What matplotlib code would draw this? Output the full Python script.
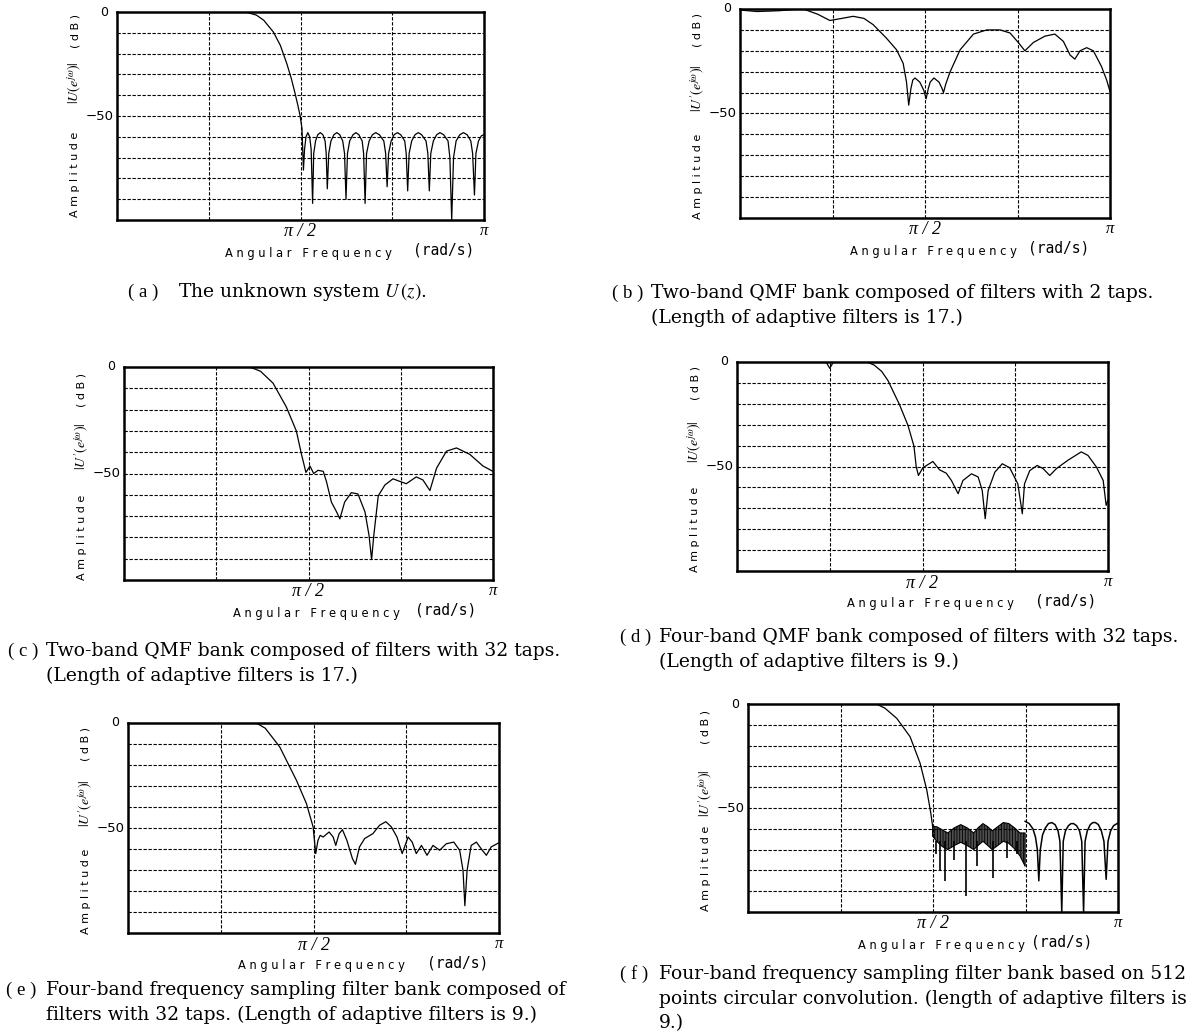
import numpy as np
import matplotlib
matplotlib.use("Agg")
import matplotlib.pyplot as plt

plt.rcParams['hatch.linewidth'] = 0.6
plt.rcParams['mathtext.fontset'] = 'stix'

# frequencies are given as fractions of pi, amplitudes in dB
a_w = [0, 0.35, 0.38, 0.40, 0.426, 0.445, 0.463, 0.475, 0.485, 0.493, 0.499, 0.504,
       0.508, 0.511, 0.515, 0.520, 0.525, 0.529,
       0.533, 0.536, 0.541, 0.547, 0.554, 0.561, 0.567, 0.570,
       0.573, 0.577, 0.583, 0.591, 0.599, 0.607, 0.615, 0.620,
       0.624, 0.628, 0.634, 0.643, 0.651, 0.659, 0.668, 0.672,
       0.676, 0.680, 0.687, 0.696, 0.705, 0.715, 0.727, 0.732,
       0.736, 0.740, 0.747, 0.755, 0.764, 0.773, 0.784, 0.788,
       0.792, 0.796, 0.803, 0.812, 0.821, 0.830, 0.842, 0.847,
       0.851, 0.855, 0.862, 0.871, 0.880, 0.890, 0.902, 0.907,
       0.912, 0.917, 0.924, 0.934, 0.944, 0.954, 0.964, 0.969,
       0.974, 0.978, 0.985, 0.993, 1.0]
a_db = [0, 0, -1.5, -4, -9.6, -16, -25, -32, -39, -45, -50, -56,
        -76, -66, -60, -58, -60, -66,
        -92, -68, -62, -59, -58, -59, -62, -68,
        -85, -68, -62, -59, -58, -59, -62, -68,
        -90, -68, -62, -59, -58, -59, -62, -68,
        -92, -68, -62, -59, -58, -59, -62, -68,
        -84, -68, -62, -59, -58, -59, -62, -68,
        -86, -68, -62, -59, -58, -59, -62, -68,
        -86, -68, -62, -59, -58, -59, -62, -70,
        -100, -70, -62, -59, -58, -59, -62, -68,
        -88, -68, -62, -59.5, -59]

b_w = [0, 0.02, 0.045, 0.08, 0.108, 0.14, 0.171, 0.21, 0.243, 0.275, 0.306, 0.335,
       0.360, 0.396, 0.423, 0.441, 0.450, 0.456, 0.462, 0.467, 0.473, 0.486, 0.497,
       0.503, 0.509, 0.514, 0.524, 0.538, 0.546, 0.550, 0.556, 0.568, 0.595, 0.631,
       0.667, 0.703, 0.730, 0.752, 0.770, 0.793, 0.824, 0.851, 0.874, 0.892, 0.905,
       0.919, 0.937, 0.955, 0.977, 0.991, 1.0]
b_db = [-0.5, -0.8, -1.2, -1.0, -0.8, -0.3, 0, -2.5, -5.5, -4.5, -3.5, -4.5,
        -7.5, -14, -19.5, -26, -35, -46, -38, -34, -33, -35, -39,
        -43, -38, -35, -33, -35, -38, -40, -36, -30, -19.5, -12,
        -10, -10, -11.5, -16, -20, -16, -13, -12, -15.5, -22, -24,
        -20, -18.5, -20, -27.5, -34, -39.5]

c_w = [0, 0.341, 0.37, 0.404, 0.440, 0.467, 0.481, 0.493, 0.504, 0.514, 0.526,
       0.540, 0.549, 0.562, 0.576, 0.585, 0.598, 0.616, 0.634, 0.653, 0.664, 0.671,
       0.677, 0.689, 0.707, 0.729, 0.752, 0.765, 0.792, 0.810, 0.829, 0.847, 0.874,
       0.901, 0.937, 0.973, 1.0]
c_db = [0, 0, -2, -7.6, -18.8, -30, -41, -49.5, -46.5, -50, -48.5,
        -49, -54, -63.4, -68, -71.3, -63.4, -59, -59.6, -68, -79, -90.4,
        -79, -60.5, -55.4, -52.5, -54, -54.8, -51.6, -53, -58, -47.5, -39.5,
        -38, -41, -46.5, -49]

d_w = [0, 0.24, 0.25, 0.26, 0.35, 0.37, 0.39, 0.407, 0.438, 0.461, 0.477, 0.483,
       0.489, 0.501, 0.528, 0.546, 0.564, 0.578, 0.596, 0.609, 0.632, 0.650, 0.661,
       0.669, 0.677, 0.695, 0.715, 0.735, 0.757, 0.769, 0.775, 0.789, 0.809, 0.825,
       0.843, 0.861, 0.892, 0.928, 0.946, 0.969, 0.987, 0.995, 1.0]
d_db = [0, 0, -3, 0, 0, -1.5, -4.5, -8.9, -20.4, -30.4, -40.3, -50,
        -54.3, -50.6, -47.6, -51.6, -53.2, -56.7, -63, -56.7, -53.5, -55, -61.5,
        -75, -61.5, -52.7, -48.7, -50.6, -58.3, -72.6, -58.3, -52, -49.5, -51,
        -54.3, -51, -47, -43, -44.7, -50.3, -56.7, -68.6, -66]

e_w = [0, 0.346, 0.37, 0.409, 0.454, 0.481, 0.499, 0.506, 0.512, 0.518, 0.526,
       0.542, 0.553, 0.560, 0.569, 0.578, 0.590, 0.605, 0.613, 0.624, 0.638, 0.660,
       0.678, 0.695, 0.710, 0.725, 0.739, 0.755, 0.766, 0.777, 0.791, 0.806, 0.822,
       0.840, 0.858, 0.878, 0.894, 0.903, 0.908, 0.914, 0.925, 0.939, 0.955, 0.966,
       0.979, 1.0]
e_db = [0, 0, -2.5, -11.4, -27.3, -38.4, -49.5, -62.2, -55.9, -53.5, -54.3,
        -51.9, -54.3, -58.3, -52.7, -50.8, -55.9, -64.6, -67.3, -59, -55, -52.7,
        -48.7, -47, -49.5, -54.3, -62.2, -54.3, -56.7, -62.2, -58.3, -63, -58.3,
        -60.6, -57.5, -56.7, -60.6, -70.2, -87, -70.2, -58.3, -56.7, -60.6, -63,
        -59, -57]

# (f): passband, clean upper stopband, and the densely oscillating band in between
f_w = [0, 0.347, 0.37, 0.402, 0.438, 0.465, 0.483, 0.494, 0.499]
f_db = [0, 0, -2, -6.9, -15.7, -28.4, -41.2, -52.4, -58.8]
f2_w = [0.749, 0.760, 0.770, 0.777, 0.782, 0.786, 0.790, 0.796, 0.804, 0.812, 0.821,
        0.830, 0.838, 0.843, 0.848, 0.852, 0.858, 0.866, 0.873, 0.880, 0.888, 0.896,
        0.902, 0.907, 0.911, 0.917, 0.925, 0.932, 0.939, 0.947, 0.955, 0.962, 0.968,
        0.973, 0.980, 0.988, 1.0]
f2_db = [-56.4, -57.5, -60, -64, -70, -85, -70, -63, -59.5, -57.5, -57,
         -58, -61, -66, -100, -66, -61, -58.5, -57.5, -57.5, -58.5, -61,
         -66, -100, -66, -61, -58, -57, -57, -58, -61, -66, -84.3,
         -66, -61, -58.5, -57.2]
f_band_w = [0.499, 0.510, 0.525, 0.540, 0.558, 0.575, 0.592, 0.610, 0.622, 0.635,
            0.648, 0.660, 0.675, 0.690, 0.705, 0.720, 0.735, 0.749]
f_band_hi = [-58.8, -59, -60.5, -62, -59.5, -58, -59.5, -62, -59.5, -57.5,
             -59, -61, -59, -57, -57.5, -59.5, -62, -62]
f_band_lo = [-63.5, -66, -68.5, -70, -68, -66.5, -68, -70, -68, -66,
             -68, -70, -68, -66, -67, -69.5, -73, -78]
f_spike_w = [0.507, 0.518, 0.532, 0.556, 0.589, 0.620, 0.661, 0.700, 0.728]
f_spike_db = [-72, -80, -85, -75, -92.3, -78, -83.6, -74, -72]

panels = [
    dict(box=(117, 484, 12, 220), curve=(a_w, a_db), lab="|U(e^{j\\omega})|",
         num="( a )", cap=["The unknown system $U\\,(z)$."], cap_xy=(128, 178, 292),
         yfr=(0.22, 0.66, 0.91), rad_gap=20),
    dict(box=(740, 1110, 9, 218), curve=(b_w, b_db), lab="|U'(e^{j\\omega})|",
         num="( b )", cap=["Two-band QMF bank composed of filters with 2 taps.",
                           "(Length of adaptive filters is 17.)"],
         cap_xy=(612, 651, 293), yfr=(0.2, 0.62, 0.9), rad_gap=10),
    dict(box=(124, 493, 367, 580), curve=(c_w, c_db), lab="|U'(e^{j\\omega})|",
         num="( c )", cap=["Two-band QMF bank composed of filters with 32 taps.",
                           "(Length of adaptive filters is 17.)"],
         cap_xy=(8, 46, 651), yfr=(0.2, 0.63, 0.89), rad_gap=14),
    dict(box=(737, 1108, 362, 571), curve=(d_w, d_db), lab="|U(e^{j\\omega})|",
         num="( d )", cap=["Four-band QMF bank composed of filters with 32 taps.",
                           "(Length of adaptive filters is 9.)"],
         cap_xy=(620, 659, 637), yfr=(0.2, 0.62, 0.9), rad_gap=20),
    dict(box=(128, 499, 723, 933), curve=(e_w, e_db), lab="|U'(e^{j\\omega})|",
         num="( e )", cap=["Four-band frequency sampling filter bank composed of",
                           "filters with 32 taps. (Length of adaptive filters is 9.)"],
         cap_xy=(6, 46, 990), yfr=(0.2, 0.62, 0.9), rad_gap=20),
    dict(box=(748, 1118, 704, 912), curve=(f_w, f_db), lab="|U'(e^{j\\omega})|",
         num="( f )", cap=["Four-band frequency sampling filter bank based on 512",
                           "points circular convolution. (length of adaptive filters is",
                           "9.)"],
         cap_xy=(620, 659, 974), yfr=(0.21, 0.57, 0.89), rad_gap=5),
]

W, H = 1197, 1034
fig = plt.figure(figsize=(W / 100, H / 100), dpi=100)

sans = "DejaVu Sans"
serif = "DejaVu Serif"


def spaced(s):
    return " ".join(s)


for i, p in enumerate(panels):
    L, R, T, B = p["box"]
    ax = fig.add_axes([L / W, 1 - B / H, (R - L) / W, (B - T) / H])
    ax.set_xlim(0, np.pi)
    ax.set_ylim(-100, 0)
    for v in [np.pi / 4, np.pi / 2, 3 * np.pi / 4]:
        ax.axvline(v, color="k", lw=0.8, ls=(0, (3, 1.5)))
    for h in range(-90, 0, 10):
        ax.axhline(h, color="k", lw=0.8, ls=(0, (3, 1.5)))
    w, db = p["curve"]
    ax.plot(np.array(w) * np.pi, db, color="k", lw=0.9)
    if i == 5:
        bw = np.array(f_band_w) * np.pi
        ax.fill_between(bw, f_band_lo, f_band_hi, facecolor="0.3",
                        edgecolor="k", hatch="||||||", lw=0.8)
        ax.vlines(np.array(f_spike_w) * np.pi, f_spike_db, -66, color="k", lw=1.2)
        ax.plot(np.array(f2_w) * np.pi, f2_db, color="k", lw=1.1)
    for s in ax.spines.values():
        s.set_linewidth(1.8)
    ax.set_xticks([])
    ax.set_yticks([])

    # y tick labels
    fig.text((L - 9) / W, 1 - T / H, "0", ha="right", va="center",
             fontsize=9, family=sans)
    fig.text((L - 3) / W, 1 - (T + B) / 2 / H, "−50", ha="right", va="center",
             fontsize=9.5, family=sans)
    # y label, three pieces
    yx = L - 42
    y0, y1, y2 = p["yfr"]
    fig.text(yx / W, 1 - (B - y0 * (B - T)) / H, spaced("Amplitude"), rotation=90,
             ha="center", va="center", fontsize=8, family=sans)
    fig.text(yx / W, 1 - (B - y1 * (B - T)) / H, "$" + p["lab"] + "$", rotation=90,
             ha="center", va="center", fontsize=10)
    fig.text(yx / W, 1 - (B - y2 * (B - T)) / H, "( d B )", rotation=90,
             ha="center", va="center", fontsize=8, family=sans)
    # x labels
    fig.text((L + R) / 2 / W, 1 - (B + 12) / H, "π / 2", ha="center", va="center",
             fontsize=13, family="Liberation Serif", style="italic")
    fig.text(R / W, 1 - (B + 11) / H, "π", ha="center", va="center",
             fontsize=12, family="Liberation Serif", style="italic")
    mid = (L + R) / 2
    fig.text((mid + 8) / W, 1 - (B + 33) / H,
             spaced("Angular") + "   " + spaced("Frequency"),
             ha="center", va="center", fontsize=8.3, family=sans)
    fig.text((mid + 93 + p["rad_gap"]) / W, 1 - (B + 30) / H, "(rad/s)", ha="left",
             va="center", fontsize=10.5, family="DejaVu Sans Mono")

    # caption
    nx, tx, cy = p["cap_xy"]
    fig.text(nx / W, 1 - cy / H, p["num"], ha="left", va="center", fontsize=13.5,
             family="Liberation Serif")
    for k, line in enumerate(p["cap"]):
        fig.text(tx / W, 1 - (cy + 24.5 * k) / H, line, ha="left", va="center",
                 fontsize=13.5, family=serif)

fig.savefig("out.png", dpi=100, facecolor="white")
